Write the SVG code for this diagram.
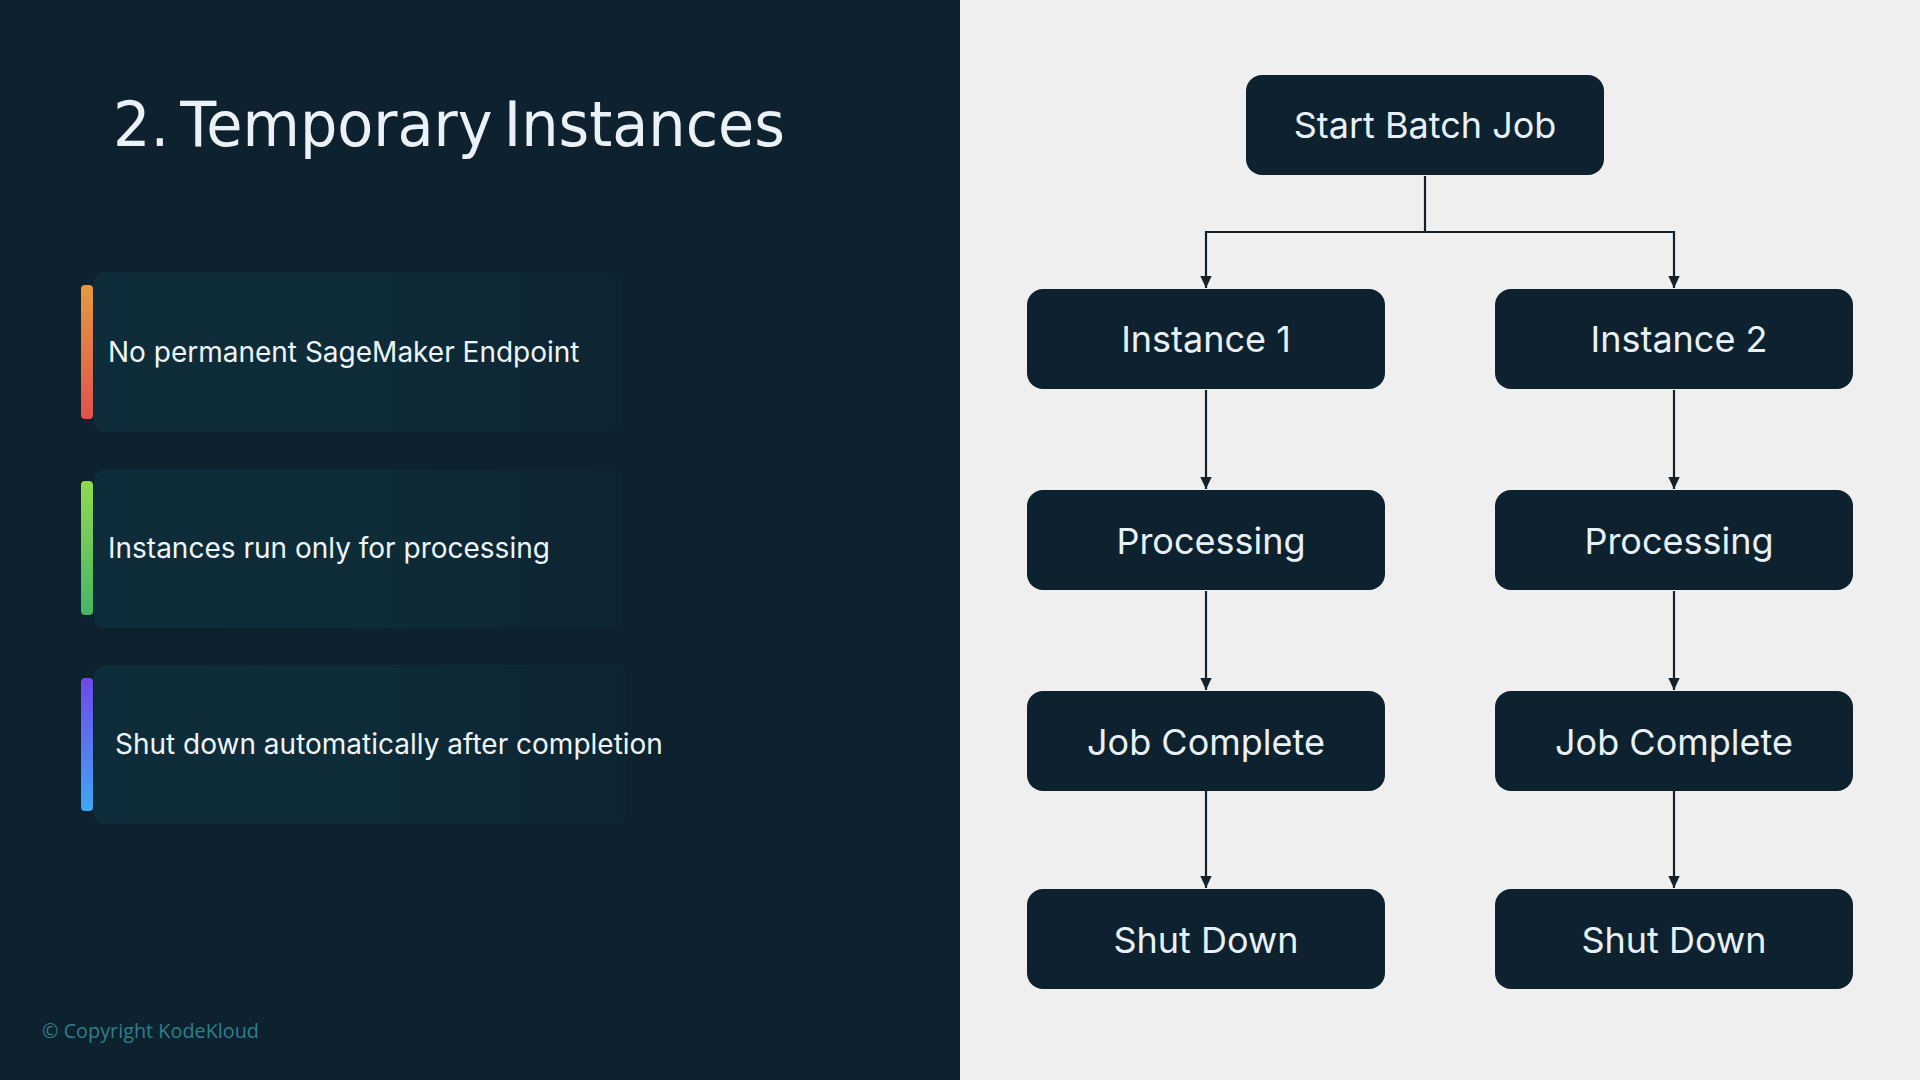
<svg xmlns="http://www.w3.org/2000/svg" width="1920" height="1080" viewBox="0 0 1920 1080">
<style>
.node rect{fill:#0e212e}
.node text{font-family:"Inter","Liberation Sans",sans-serif;font-size:36px;fill:#e8f1f7;text-anchor:middle}
.card{fill:url(#cardGrad)}
.bullet text{font-family:"Inter","Liberation Sans",sans-serif;font-size:28px;fill:#eef5fa}
.conn{fill:none;stroke:#14202a;stroke-width:2.2;marker-end:url(#arrow)}
.plain{fill:none;stroke:#14202a;stroke-width:2.2}
</style>
<defs>
<linearGradient id="cardGrad" x1="0" x2="1" y1="0" y2="0"><stop offset="0" stop-color="#0e2c39"/><stop offset="0.55" stop-color="#0e2b38"/><stop offset="1" stop-color="#0e2431"/></linearGradient>
<linearGradient id="bar1" x1="0" x2="0" y1="0" y2="1"><stop offset="0" stop-color="#e59a41"/><stop offset="1" stop-color="#e2514c"/></linearGradient>
<linearGradient id="bar2" x1="0" x2="0" y1="0" y2="1"><stop offset="0" stop-color="#93d94f"/><stop offset="1" stop-color="#46b565"/></linearGradient>
<linearGradient id="bar3" x1="0" x2="0" y1="0" y2="1"><stop offset="0" stop-color="#6f48e8"/><stop offset="1" stop-color="#3fa8f5"/></linearGradient>
<marker id="arrow" markerUnits="userSpaceOnUse" markerWidth="12" markerHeight="12" refX="12" refY="6" orient="auto"><path d="M0,0.3L12,6L0,11.7Z" fill="#14202a"/></marker>
</defs>
<rect width="1920" height="1080" fill="#efefef"/>
<rect width="960" height="1080" fill="#0e212e"/>
<text id="title" x="113" y="146" font-family="'DejaVu Sans','Noto Sans',sans-serif" font-size="62" fill="#eaf1f7" word-spacing="-8" textLength="672" lengthAdjust="spacingAndGlyphs">2. Temporary Instances</text>
<g id="bullet1" class="bullet"><rect class="card" x="94" y="272" width="529" height="160" rx="10"/><rect x="81" y="285" width="12" height="134" rx="4" fill="url(#bar1)"/><text x="108" y="362">No permanent SageMaker Endpoint</text></g>
<g id="bullet2" class="bullet"><rect class="card" x="94" y="470" width="529" height="158" rx="10"/><rect x="81" y="481" width="12" height="134" rx="4" fill="url(#bar2)"/><text x="108" y="558">Instances run only for processing</text></g>
<g id="bullet3" class="bullet"><rect class="card" x="94" y="665" width="532" height="159" rx="10"/><rect x="81" y="678" width="12" height="133" rx="4" fill="url(#bar3)"/><text x="115" y="754">Shut down automatically after completion</text></g>
<text id="copyright" x="42" y="1038" font-family="'Open Sans','Noto Sans',sans-serif" font-size="20" fill="#2f7f8c" textLength="217" lengthAdjust="spacingAndGlyphs">© Copyright KodeKloud</text>
<g id="connectors">
<path class="plain" d="M1425,176V232"/>
<path class="conn" d="M1425,232H1206V288"/>
<path class="conn" d="M1425,232H1674V288"/>
<path class="conn" d="M1206,390V489"/><path class="conn" d="M1674,390V489"/>
<path class="conn" d="M1206,591V690"/><path class="conn" d="M1674,591V690"/>
<path class="conn" d="M1206,791V888"/><path class="conn" d="M1674,791V888"/>
</g>
<g id="start" class="node"><rect x="1246" y="75" width="358" height="100" rx="16"/><text x="1425" y="138">Start Batch Job</text></g>
<g id="inst1" class="node"><rect x="1027" y="289" width="358" height="100" rx="16"/><text x="1206" y="352">Instance 1</text></g>
<g id="inst2" class="node"><rect x="1495" y="289" width="358" height="100" rx="16"/><text x="1679" y="352">Instance 2</text></g>
<g id="proc1" class="node"><rect x="1027" y="490" width="358" height="100" rx="16"/><text x="1211" y="554">Processing</text></g>
<g id="proc2" class="node"><rect x="1495" y="490" width="358" height="100" rx="16"/><text x="1679" y="554">Processing</text></g>
<g id="done1" class="node"><rect x="1027" y="691" width="358" height="100" rx="16"/><text x="1206" y="755">Job Complete</text></g>
<g id="done2" class="node"><rect x="1495" y="691" width="358" height="100" rx="16"/><text x="1674" y="755">Job Complete</text></g>
<g id="shut1" class="node"><rect x="1027" y="889" width="358" height="100" rx="16"/><text x="1206" y="953">Shut Down</text></g>
<g id="shut2" class="node"><rect x="1495" y="889" width="358" height="100" rx="16"/><text x="1674" y="953">Shut Down</text></g>
</svg>
